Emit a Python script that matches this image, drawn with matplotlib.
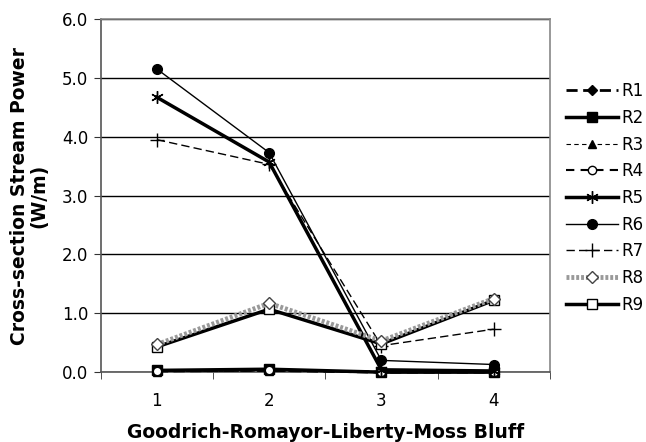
import matplotlib
matplotlib.use("Agg")
import matplotlib.pyplot as plt
import numpy as np

categories = [1, 2, 3, 4]
R1 = [0.02, 0.03, 0.00, 0.00]
R2 = [0.03, 0.05, 0.00, 0.00]
R3 = [0.01, 0.02, 0.00, 0.00]
R4 = [0.02, 0.03, 0.01, 0.00]
R5 = [4.67, 3.57, 0.04, 0.02]
R6 = [5.15, 3.73, 0.20, 0.13]
R7 = [3.95, 3.53, 0.45, 0.73]
R8 = [0.47, 1.17, 0.53, 1.25]
R9 = [0.43, 1.07, 0.48, 1.22]
series_names = ["R1", "R2", "R3", "R4", "R5", "R6", "R7", "R8", "R9"]
yticks = [0.0, 1.0, 2.0, 3.0, 4.0, 5.0, 6.0]

plt.rcParams['font.family'] = ['DejaVu Sans']

fig = plt.figure(figsize=(6.46, 4.42), dpi=100)
ax = fig.add_axes([0.156, 0.158, 0.695, 0.799])

x = np.array(categories)
styles = {
    "R1": dict(color="black", lw=2.0, ls=(0, (4, 2)), marker="D", ms=5, mfc="black", mec="black"),
    "R2": dict(color="black", lw=2.5, ls="-", marker="s", ms=7, mfc="black", mec="black"),
    "R3": dict(color="black", lw=0.8, ls=(0, (4, 3)), marker="^", ms=6, mfc="black", mec="black"),
    "R4": dict(color="black", lw=1.5, ls=(0, (4, 3)), marker="o", ms=6, mfc="white", mec="black"),
    "R5": dict(color="black", lw=2.5, ls="-", marker=(6, 2, 0), ms=9, mfc="black", mec="black", mew=1.0),
    "R6": dict(color="black", lw=1.0, ls="-", marker="o", ms=7, mfc="black", mec="black"),
    "R7": dict(color="black", lw=1.0, ls=(0, (6, 3)), marker="+", ms=10, mfc="black", mec="black", mew=1.0),
    "R9": dict(color="black", lw=2.5, ls="-", marker="s", ms=7, mfc="white", mec="black", mew=1.0),
    "R8": dict(color="#999999", lw=3.5, ls=(0, (0.6, 0.4)), marker="D", ms=6, mfc="white", mec="#444444", mew=1.0),
}
data = {"R1": R1, "R2": R2, "R3": R3, "R4": R4, "R5": R5, "R6": R6, "R7": R7, "R8": R8, "R9": R9}
handles = {}
for name in ["R1", "R2", "R3", "R4", "R6", "R7", "R5", "R9", "R8"]:
    h, = ax.plot(x, data[name], label=name, clip_on=False, zorder=3, **styles[name])
    handles[name] = h

ax.set_xlim(0.5, 4.5)
ax.set_ylim(0, 6.0)
ax.set_yticks(yticks)
ax.set_yticklabels([f"{v:.1f}" for v in yticks], fontsize=12)
ax.set_xticks(categories)
ax.set_xticklabels([str(c) for c in categories], fontsize=12)
ax.tick_params(axis="x", length=0, pad=14)
ax.set_xticks([0.5, 1.5, 2.5, 3.5, 4.5], minor=True)
ax.tick_params(axis="x", which="minor", length=5, direction="out", color="#333333")
ax.tick_params(axis="y", length=5, direction="out", color="#333333", pad=4)
ax.grid(axis="y", color="black", lw=1.0, zorder=0)
ax.set_axisbelow(True)
for s in ["top", "right"]:
    ax.spines[s].set_color("#888888")
    ax.spines[s].set_linewidth(1.2)
for s in ["left", "bottom"]:
    ax.spines[s].set_color("#555555")
    ax.spines[s].set_linewidth(1.2)

ax.set_ylabel("Cross-section Stream Power\n(W/m)", fontsize=13.5, fontweight="bold", labelpad=10, linespacing=1.0)
ax.set_xlabel("Goodrich-Romayor-Liberty-Moss Bluff", fontsize=13.5, fontweight="bold", labelpad=10)

leg = fig.legend([handles[n] for n in series_names], series_names,
                 loc="upper left", bbox_to_anchor=(0.876, 0.814), frameon=False,
                 fontsize=12, handlelength=3.1, labelspacing=0.52, handletextpad=0.2,
                 borderaxespad=0, borderpad=0)

fig.savefig("out.png", dpi=100)
